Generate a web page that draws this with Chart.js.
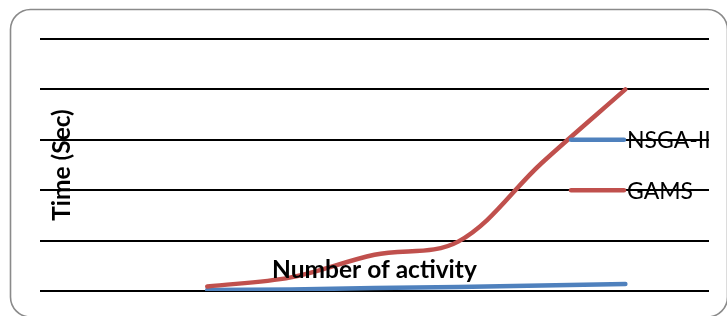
<!DOCTYPE html>
<html>
<head>
<meta charset="utf-8">
<script src="https://cdn.jsdelivr.net/npm/chart.js@4/dist/chart.umd.min.js"></script>
<style>
  html, body { margin: 0; padding: 0; background: #fff; }
  #wrap { width: 727px; height: 316px; position: relative; }
</style>
</head>
<body>
<div id="wrap"><canvas id="line-chart"></canvas></div>
<script>
// --- data ---
const activityLabels = ['0', '1', '2', '3', '4', '5', '6', '7', '8'];
const nsgaTimes = [null, null, 0.02, 0.03, 0.06, 0.08, 0.11, 0.14, null];
const gamsTimes = [null, null, 0.09, 0.27, 0.72, 0.98, 2.54, 4.0, null];
const seriesNames = ['NSGA-II', 'GAMS'];
const yTitle = 'Time (Sec)';
const xTitle = 'Number of activity';

const BLUE = '#4f81bd';
const RED = '#c0504d';

// rounded frame + titles + legend drawn like the excel chart (inside the plot)
const excelLook = {
  id: 'excelLook',
  beforeDraw: chart => {
    const ctx = chart.ctx;
    ctx.save();
    ctx.strokeStyle = '#8a8a8a';
    ctx.lineWidth = 1.6;
    ctx.beginPath();
    ctx.roundRect(10.5, 9.5, 717, 307.5, 20);
    ctx.stroke();
    ctx.restore();
  },
  afterDatasetsDraw: chart => {
    const ctx = chart.ctx;
    const area = chart.chartArea;
    ctx.save();
    ctx.fillStyle = '#000';

    // axis titles
    ctx.font = 'bold 24.5px Lato';
    ctx.textAlign = 'center';
    ctx.textBaseline = 'alphabetic';
    ctx.fillText(xTitle, (area.left + area.right) / 2, 278);

    ctx.save();
    ctx.translate(62, (area.top + area.bottom) / 2);
    ctx.rotate(-Math.PI / 2);
    ctx.textBaseline = 'middle';
    ctx.fillText(yTitle, 0, 0);
    ctx.restore();

    // legend
    const y = chart.scales.y;
    const rows = [y.getPixelForValue(3), y.getPixelForValue(2)];
    const colors = [BLUE, RED];
    ctx.font = '23px Lato';
    ctx.textAlign = 'left';
    ctx.textBaseline = 'middle';
    seriesNames.forEach((name, i) => {
      ctx.strokeStyle = colors[i];
      ctx.lineWidth = 4.5;
      ctx.lineCap = 'round';
      ctx.beginPath();
      ctx.moveTo(571, rows[i]);
      ctx.lineTo(624, rows[i]);
      ctx.stroke();
      ctx.fillText(name, 627, rows[i] + 1);
    });
    ctx.restore();
  },
};

new Chart(document.getElementById('line-chart'), {
  type: 'line',
  data: {
    labels: activityLabels,
    datasets: [
      {
        label: seriesNames[0],
        data: nsgaTimes,
        borderColor: BLUE,
        borderWidth: 4.5,
        borderCapStyle: 'round',
        pointRadius: 0,
        tension: 0.35,
        fill: false,
        order: 1,
      },
      {
        label: seriesNames[1],
        data: gamsTimes,
        borderColor: RED,
        borderWidth: 4.5,
        borderCapStyle: 'round',
        pointRadius: 0,
        tension: 0.35,
        fill: false,
        order: 0,
      },
    ],
  },
  options: {
    responsive: true,
    maintainAspectRatio: false,
    animation: false,
    devicePixelRatio: 1,
    layout: { padding: { left: 40, right: 18, top: 39, bottom: 25 } },
    plugins: {
      legend: { display: false },
      title: { display: false },
      tooltip: { enabled: false },
    },
    scales: {
      x: {
        offset: false,
        grid: { display: false, drawTicks: false },
        border: { display: false },
        ticks: { display: false },
      },
      y: {
        min: 0,
        max: 5,
        ticks: { display: false, stepSize: 1 },
        grid: { color: '#000', lineWidth: 2, drawTicks: false },
        border: { display: false },
      },
    },
  },
  plugins: [excelLook],
});
</script>
</body>
</html>
